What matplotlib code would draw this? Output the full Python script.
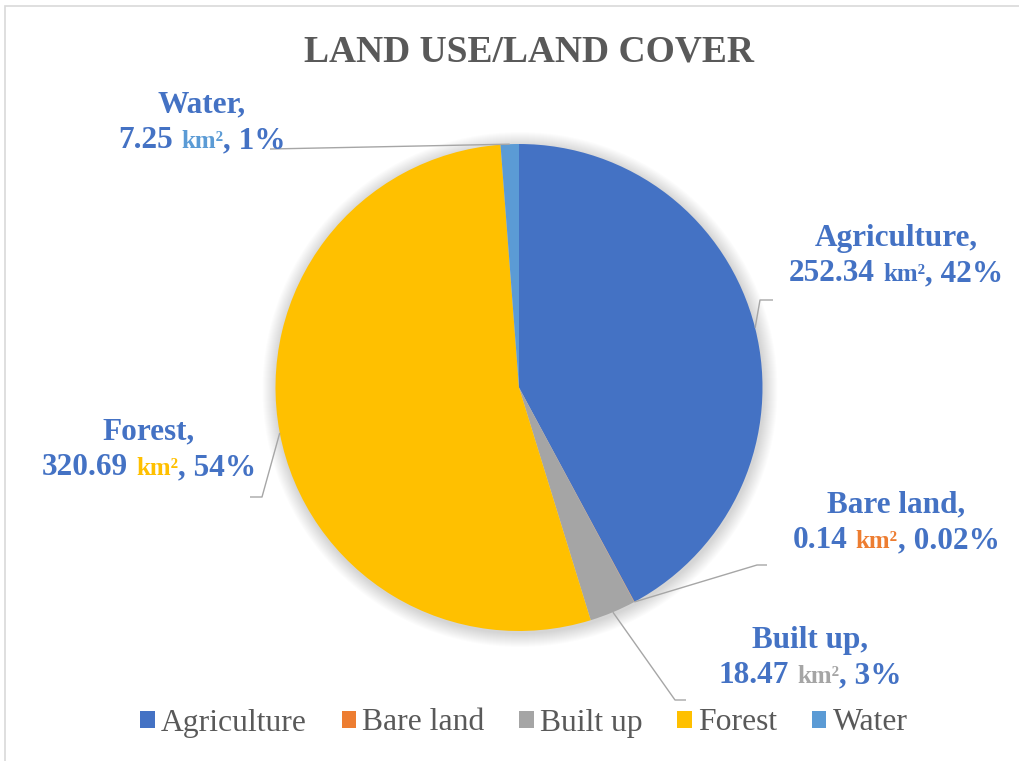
import matplotlib
matplotlib.use("Agg")
import numpy as np
import matplotlib.pyplot as plt
from matplotlib.patches import Circle, Rectangle
from matplotlib.offsetbox import TextArea, HPacker, VPacker, DrawingArea, AnnotationBbox

# ---- data -----------------------------------------------------------------
categories = ["Agriculture", "Bare land", "Built up", "Forest", "Water"]
area_km2 = [252.34, 0.14, 18.47, 320.69, 7.25]
slice_colors = ["#4472C4", "#ED7D31", "#A5A5A5", "#FFC000", "#5B9BD5"]
chart_title = "LAND USE/LAND COVER"
unit_text = "km\u00b2"

# ---- layout (pixel space, y measured from the top) ----------------------------
W, H = 1019, 761
PIE_CX, PIE_CY, PIE_R = 519, 387.5, 243.5
label_centers = [(896, 256), (896, 523), (810, 658), (149, 450), (202, 123)]
leader_elbows = [(760, 300), (757, 565), (675, 700), (262, 497), None]
leader_ends = [(773, 300), (767, 565), (686, 700), (250, 497), (270, 149)]

LABEL_BLUE = "#4472C4"
TEXT_GREY = "#595959"
LEADER_GREY = "#A6A6A6"
SERIF = "Liberation Serif"


def ty(y):
    """Convert a top-down pixel row to the axes' bottom-up data y."""
    return H - y


def pct_text(v, total):
    p = 100.0 * v / total
    return f"{p:.2f}%" if p < 1 else f"{p:.0f}%"


fig = plt.figure(figsize=(W / 100, H / 100), dpi=100)
ax = fig.add_axes([0, 0, 1, 1])

# soft outer shadow around the pie
for k in range(14, 0, -1):
    ax.add_patch(Circle((PIE_CX + 1, ty(PIE_CY) - 2), PIE_R + k, facecolor="black",
                        edgecolor="none", alpha=0.011, zorder=0.5))

wedges, _ = ax.pie(area_km2, colors=slice_colors, startangle=90, counterclock=False,
                   radius=PIE_R, center=(PIE_CX, ty(PIE_CY)),
                   wedgeprops=dict(linewidth=0, zorder=1))

ax.set_xlim(0, W)
ax.set_ylim(0, H)
ax.set_aspect("equal")
ax.axis("off")

# chart-area border
ax.add_patch(Rectangle((5.5, -30), W + 30, ty(6) + 30, fill=False,
                       edgecolor="#D9D9D9", linewidth=1.2, zorder=0.2))

# title
ax.text(529, ty(62), chart_title, ha="center", va="baseline", fontsize=27,
        fontweight="bold", family=SERIF, color=TEXT_GREY)

total = sum(area_km2)

# leader lines, starting at each slice's mid-angle on the rim
for w, elbow, end in zip(wedges, leader_elbows, leader_ends):
    mid = np.deg2rad((w.theta1 + w.theta2) / 2.0)
    sx = PIE_CX + PIE_R * np.cos(mid)
    sy = ty(PIE_CY) + PIE_R * np.sin(mid)
    xs, ys = [sx], [sy]
    if elbow is not None:
        xs.append(elbow[0]); ys.append(ty(elbow[1]))
    xs.append(end[0]); ys.append(ty(end[1]))
    ax.plot(xs, ys, color=LEADER_GREY, linewidth=1.0, zorder=3,
            solid_capstyle="butt")

# data labels: "Name," / "value km², pct"
main_props = dict(color=LABEL_BLUE, fontsize=22.5, fontweight="bold", family=SERIF)
for i, (cx, cy) in enumerate(label_centers):
    unit_props = dict(color=slice_colors[i], fontsize=18, fontweight="bold", family=SERIF)
    line1 = TextArea(f"{categories[i]},", textprops=main_props)
    line2 = HPacker(children=[
        TextArea(f"{area_km2[i]:g}", textprops=main_props),
        DrawingArea(6, 0),
        TextArea(unit_text, textprops=unit_props),
        TextArea(f", {pct_text(area_km2[i], total)}", textprops=main_props),
    ], align="baseline", pad=0, sep=0)
    block = VPacker(children=[line1, line2], align="center", pad=0, sep=5)
    ab = AnnotationBbox(block, (cx, ty(cy)), xycoords="data", frameon=False,
                        box_alignment=(0.5, 0.5), pad=0, zorder=4)
    ax.add_artist(ab)

# legend
ax.legend(wedges, categories, loc="center", bbox_to_anchor=(524 / W, 1 - 723 / H),
          bbox_transform=ax.transAxes, ncol=5, frameon=False,
          prop=dict(family=SERIF, size=22.8), labelcolor=TEXT_GREY,
          handlelength=0.45, handleheight=0.45, handletextpad=0.2,
          columnspacing=1.1, borderpad=0, borderaxespad=0)

fig.savefig("out.png", dpi=100, facecolor="white")
